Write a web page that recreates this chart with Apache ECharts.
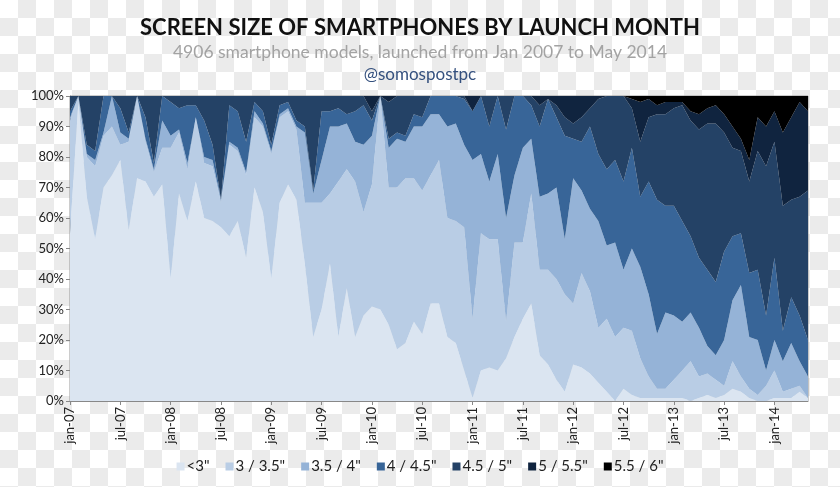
<!DOCTYPE html>
<html>
<head>
<meta charset="utf-8">
<script src="https://cdn.jsdelivr.net/npm/echarts@6/dist/echarts.min.js"></script>
<style>
html,body{margin:0;padding:0;}
body{
  width:840px;height:487px;
  background-color:#ffffff;
  background-image:conic-gradient(#ebebeb 25%, #ffffff 0 50%, #ebebeb 0 75%, #ffffff 0);
  background-size:36px 36px;
}
#chart{width:840px;height:487px;}
</style>
</head>
<body>
<div id="chart"></div>
<script>
// ---- data ----
const monthNames = ["jan","feb","mar","apr","may","jun","jul","aug","sep","oct","nov","dec"];
const yearLabels = ["07","08","09","10","11","12","13","14"];
const categories = [];
for (const y of yearLabels) {
  for (const m of monthNames) {
    categories.push(m + "-" + y);
  }
}
categories.length = 89; // jan-07 .. may-14

const seriesNames = ['<3"', '3 / 3.5"', '3.5 / 4"', '4 / 4.5"', '4.5 / 5"', '5 / 5.5"', '5.5 / 6"'];

const s_lt3 = [55,98,67,53,70,74,79,56,73,72,67,71,40,68,59,72,60,59,57,54,59,47,70,62,40,65,71,66,45,21,30,45,21,37,21,28,31,30,25,17,19,26,22,32,32,21,19,10,1,10,11,10,14,21,27,32,15,12,7,3,12,11,9,6,3,0,4,2,1,1,1,1,1,1,0,1,2,1,2,4,3,1,0,0,1,1,1,3,1];
const s_3_35 = [37,2,13,24,17,16,5,29,27,13,8,12,43,20,17,21,18,18,8,30,23,27,23,28,41,28,24,23,20,44,35,23,51,39,51,34,40,70,45,53,54,47,47,42,47,39,40,47,26,45,42,43,12,31,25,36,28,31,33,32,20,31,27,18,24,21,20,21,13,7,3,3,6,9,13,7,7,6,3,9,5,3,2,5,9,2,3,2,0];
const s_35_4 = [1,0,1,2,1,10,4,1,0,1,1,9,4,1,2,0,2,2,1,1,1,1,2,1,1,1,1,1,23,3,14,22,18,15,13,22,16,0,13,16,12,17,21,20,15,30,32,27,52,26,19,28,34,22,31,18,24,25,30,18,41,27,27,35,24,31,19,27,30,27,18,25,21,16,16,16,9,8,15,20,30,17,18,5,10,10,15,8,7];
const s_4_45 = [2,0,3,3,12,0,8,2,0,7,2,8,11,7,19,4,12,5,0,12,12,10,3,4,2,3,2,2,2,1,16,5,6,3,10,13,5,0,3,2,2,4,3,6,6,10,9,15,16,19,18,19,29,26,17,11,23,31,23,34,13,16,27,22,25,27,29,33,23,37,44,35,36,33,25,23,25,24,29,21,17,21,23,18,27,10,15,15,12];
const s_45_5 = [5,0,16,18,0,0,4,12,0,7,22,0,2,4,3,3,8,16,34,3,5,15,2,5,16,3,2,8,10,31,5,5,4,6,5,3,3,0,12,12,13,6,7,0,0,0,0,1,0,0,10,0,11,0,0,3,7,0,4,6,5,8,6,18,24,21,28,13,18,21,28,30,32,38,38,42,48,52,39,29,27,30,39,49,38,41,32,39,49];
const s_5_55 = [0,0,0,0,0,0,0,0,0,0,0,0,0,0,0,0,0,0,0,0,0,0,0,0,0,0,0,0,0,0,0,0,0,0,0,0,5,0,2,0,0,0,0,0,0,0,0,0,5,0,0,0,0,0,0,0,3,1,3,7,9,7,4,1,0,0,0,3,13,6,3,4,2,1,3,5,5,6,6,7,4,7,11,13,10,24,27,31,26];
const s_55_6 = [0,0,0,0,0,0,0,0,0,0,0,0,0,0,0,0,0,0,0,0,0,0,0,0,0,0,0,0,0,0,0,0,0,0,0,0,0,0,0,0,0,0,0,0,0,0,0,0,0,0,0,0,0,0,0,0,0,0,0,0,0,0,0,0,0,0,0,1,2,1,3,2,2,2,5,6,4,3,6,10,14,21,7,10,5,12,7,2,5];

const seriesValues = [s_lt3, s_3_35, s_35_4, s_4_45, s_45_5, s_5_55, s_55_6];
const colors = ['#dbe5f1', '#b9cde5', '#95b3d7', '#386598', '#244266', '#10243f', '#000000'];

// ---- chart ----
const chart = echarts.init(document.getElementById('chart'), null, {renderer: 'canvas'});
const fontFam = 'Lato, "Open Sans", sans-serif';

chart.setOption({
  backgroundColor: 'transparent',
  animation: false,
  title: [
    {text: 'SCREEN SIZE OF SMARTPHONES BY LAUNCH MONTH', left: 'center', top: 12,
     textStyle: {fontFamily: fontFam, fontSize: 22, fontWeight: 'bold', color: '#111'}},
    {text: '4906 smartphone models, launched from Jan 2007 to May 2014', left: 'center', top: 38,
     textStyle: {fontFamily: fontFam, fontSize: 17.5, fontWeight: 'normal', color: '#a3a3a3'}},
    {text: '@somospostpc', left: 'center', top: 61,
     textStyle: {fontFamily: fontFam, fontSize: 17, fontWeight: 'normal', color: '#34507e'}}
  ],
  legend: {
    bottom: 8, left: 'center',
    icon: 'rect', itemWidth: 8, itemHeight: 8, itemGap: 16,
    textStyle: {fontFamily: fontFam, fontSize: 15, color: '#222', padding: [0,0,0,-3]},
    data: seriesNames
  },
  grid: {left: 70, right: 32, top: 96, bottom: 86, show: true, borderColor: '#999', borderWidth: 1},
  xAxis: {
    type: 'category', boundaryGap: false, data: categories,
    axisLine: {lineStyle: {color: '#888'}},
    axisTick: {interval: function (i) { return i % 6 === 0; }, length: 4, lineStyle: {color: '#888'}},
    axisLabel: {interval: function (i) { return i % 6 === 0; }, rotate: 90,
      fontFamily: fontFam, fontSize: 13, color: '#222', margin: 6},
    splitLine: {show: false}
  },
  yAxis: {
    type: 'value', min: 0, max: 100, interval: 10,
    axisLine: {show: true, lineStyle: {color: '#888'}},
    axisTick: {show: true, length: 4, lineStyle: {color: '#888'}},
    axisLabel: {formatter: '{value}%', fontFamily: fontFam, fontSize: 13, color: '#222', margin: 6},
    splitLine: {show: false}
  },
  series: seriesNames.map(function (name, k) {
    return {
      name: name, type: 'line', stack: 'total', data: seriesValues[k],
      symbol: 'none', smooth: false,
      lineStyle: {width: 0},
      itemStyle: {color: colors[k]},
      areaStyle: {color: colors[k], opacity: 1},
      emphasis: {disabled: true}
    };
  })
});
</script>
</body>
</html>
